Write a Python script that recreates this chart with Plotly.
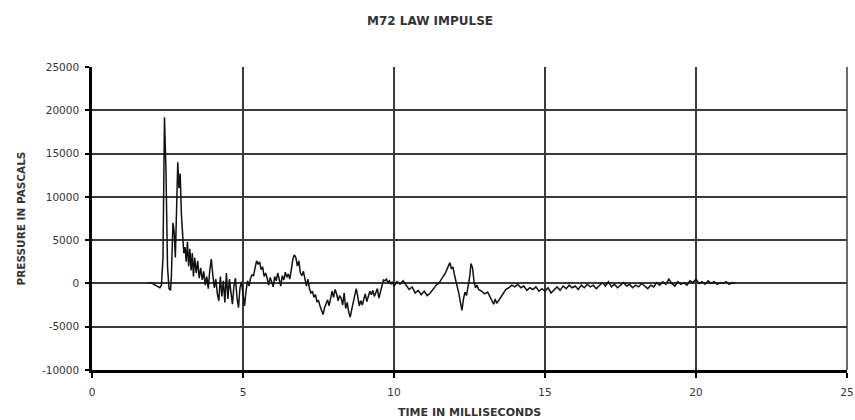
import plotly.graph_objects as go

time_ms = [1.85, 1.95, 2.05, 2.15, 2.25, 2.3, 2.35, 2.4, 2.45, 2.5, 2.55, 2.6, 2.63, 2.68, 2.72, 2.76, 2.8, 2.84, 2.88, 2.92, 2.96,
           3.0, 3.04, 3.08, 3.12, 3.16, 3.2, 3.24, 3.28, 3.32, 3.36, 3.4, 3.45, 3.5, 3.55, 3.6, 3.65, 3.7, 3.75, 3.8, 3.85, 3.9, 3.95,
           4.0, 4.05, 4.1, 4.15, 4.2, 4.25, 4.3, 4.35, 4.4, 4.45, 4.5, 4.55, 4.6, 4.65, 4.7, 4.75, 4.8, 4.85, 4.9, 4.95,
           5.0, 5.05, 5.1, 5.15, 5.2, 5.25, 5.3, 5.35, 5.4, 5.45, 5.5, 5.55, 5.6, 5.65, 5.7, 5.75, 5.8, 5.85, 5.9, 5.95,
           6.0, 6.05, 6.1, 6.15, 6.2, 6.25, 6.3, 6.35, 6.4, 6.45, 6.5, 6.55, 6.6, 6.65, 6.7, 6.75, 6.8, 6.85, 6.9, 6.95,
           7.0, 7.05, 7.1, 7.15, 7.2, 7.25, 7.3, 7.35, 7.4, 7.45, 7.5, 7.55, 7.6, 7.65, 7.7, 7.75, 7.8, 7.85, 7.9, 7.95,
           8.0, 8.05, 8.1, 8.15, 8.2, 8.25, 8.3, 8.35, 8.4, 8.45, 8.5, 8.55, 8.6, 8.65, 8.7, 8.75, 8.8, 8.85, 8.9, 8.95,
           9.0, 9.05, 9.1, 9.15, 9.2, 9.25, 9.3, 9.35, 9.4, 9.45, 9.5, 9.55, 9.6, 9.65, 9.7, 9.75, 9.8, 9.85, 9.9, 9.95,
           10.0, 10.1, 10.2, 10.3, 10.4, 10.5, 10.6, 10.7, 10.8, 10.9, 11.0, 11.1, 11.2, 11.3, 11.4, 11.5, 11.6, 11.7, 11.8, 11.85, 11.9, 11.95,
           12.0, 12.05, 12.1, 12.15, 12.2, 12.25, 12.3, 12.35, 12.4, 12.45, 12.5, 12.55, 12.6, 12.65, 12.7, 12.75, 12.8, 12.9,
           13.0, 13.1, 13.2, 13.3, 13.35, 13.4, 13.5, 13.6, 13.7, 13.8, 13.9, 14.0, 14.1, 14.2, 14.3, 14.4, 14.5, 14.6, 14.7, 14.8, 14.9,
           15.0, 15.1, 15.2, 15.3, 15.4, 15.5, 15.6, 15.7, 15.8, 15.9, 16.0, 16.1, 16.2, 16.3, 16.4, 16.5, 16.6, 16.7, 16.8, 16.9,
           17.0, 17.1, 17.2, 17.3, 17.4, 17.5, 17.6, 17.7, 17.8, 17.9, 18.0, 18.1, 18.2, 18.3, 18.4, 18.5, 18.6, 18.7, 18.8, 18.9,
           19.0, 19.1, 19.2, 19.3, 19.4, 19.5, 19.6, 19.7, 19.8, 19.9, 20.0, 20.1, 20.2, 20.3, 20.4, 20.5, 20.6, 20.7, 20.8, 20.9,
           21.0, 21.1, 21.2, 21.3]

pressure_pa = [0, 100, -100, -300, -500, -200, 3000, 19200, 13000, 2000, -600, -800, 1000, 7000, 6000, 3000, 9000, 14000, 11000, 12700, 8000,
               5500, 3500, 4200, 2500, 4800, 2000, 4000, 1500, 3500, 800, 3000, 1200, 2600, 600, 1800, 400, 1400, -200, 800, -600, 1500, 2800,
               1000, -500, 500, -1200, -2000, 800, -1500, 300, -2200, 1200, -1800, 500, -1000, -2400, -300, 600, -1600, -2800, -500, 200,
               -1200, -2600, -900, 300, -300, 600, 1000, 900, 1800, 2600, 2200, 2500, 1600, 1900, 800, 1200, 600, -200, 700, 200,
               -400, 800, 300, 1200, 500, -300, 900, 400, 1300, 700, 1100, 500, 1600, 2800, 3300, 3000, 2000, 2600, 1200, 900,
               1400, 300, -300, 500, -600, -1100, -900, -1600, -1300, -2100, -2000, -2600, -3200, -3600, -2800, -2300, -1900, -2600, -1500, -900,
               -1600, -700, -1200, -2000, -1400, -1700, -2500, -1100, -2900, -2200, -3300, -3900, -3000, -2300, -1400, -600, -1500, -2600, -2000, -2500,
               -1800, -1200, -2100, -1500, -900, -1300, -800, -1500, -1000, -600, -1700, -800, -300, 400, 300, 500, 100, 300, -100, 200,
               -300, 200, -100, 300, -200, -700, -400, -1100, -800, -1300, -900, -1400, -1100, -600, -200, 100, 600, 1200, 2000, 2400, 1700, 1900,
               1000, 300, -200, -1200, -2200, -3100, -1800, -1000, -1400, -300, 600, 2300, 1800, 200, -500, -200, -700, -900,
               -1200, -1000, -1700, -2400, -1800, -2300, -1800, -1300, -700, -500, -200, -400, -100, -500, -300, -800, -500, -700, -400, -900, -600,
               -900, -500, -1100, -700, -400, -800, -300, -600, -200, -500, -300, -700, -200, -500, -100, -400, -200, -600, -300, 100,
               -300, 200, -400, -100, -500, -200, 100, -300, -100, -500, -200, -400, 0, -300, -600, -200, -400, 100, -200, 200,
               -100, 500, 0, -300, 200, -100, 100, -200, 300, 100, 500, 0, 200, -100, 300, 0, 200, -100, 100, 0,
               200, -100, 100, 0]

x_ticks = [0, 5, 10, 15, 20, 25]
y_ticks = [-10000, -5000, 0, 5000, 10000, 15000, 20000, 25000]

title_text = "M72 LAW IMPULSE"
x_title = "TIME IN MILLISECONDS"
y_title = "PRESSURE IN PASCALS"

font_family = "DejaVu Sans, Verdana, sans-serif"
text_color = "#333333"
grid_color = "#3a3a3a"

fig = go.Figure()
fig.add_trace(go.Scatter(x=time_ms, y=pressure_pa, mode="lines",
                         line=dict(color="#111111", width=1.5), showlegend=False))

fig.update_layout(
    width=855, height=420,
    margin=dict(l=92, r=8, t=67, b=50, autoexpand=False),
    paper_bgcolor="white", plot_bgcolor="white",
    font=dict(family=font_family, size=10, color=text_color),
    title=dict(text="<b>" + title_text + "</b>", x=430 / 855, xanchor="center",
               y=1 - 21 / 420, yanchor="middle", yref="container",
               font=dict(size=12, color=text_color)),
    shapes=[dict(type="line", xref="x domain", yref="y domain", x0=1, x1=1, y0=0, y1=1,
                 line=dict(color=grid_color, width=1.5))],
    annotations=[
        dict(text="<b>" + x_title + "</b>", xref="paper", yref="paper", x=0.5, y=0,
             xanchor="center", yanchor="middle", yshift=-42, showarrow=False,
             font=dict(size=11, color=text_color)),
        dict(text="<b>" + y_title + "</b>", xref="paper", yref="paper", x=0, y=0.5,
             xanchor="center", yanchor="middle", xshift=-72, textangle=-90, showarrow=False,
             font=dict(size=10.5, color=text_color)),
    ],
)

fig.update_xaxes(
    range=[0, 25], tickvals=x_ticks, ticktext=[str(v) for v in x_ticks],
    showgrid=True, gridcolor=grid_color, gridwidth=1.5,
    showline=True, linecolor="black", linewidth=2.5, mirror=False,
    ticks="outside", ticklen=5, tickwidth=2, tickcolor="black",
    ticklabelstandoff=6, ticklabeloverflow="allow", automargin=False,
    zeroline=False,
    tickfont=dict(size=10.5, color=text_color),
)
fig.update_yaxes(
    range=[-10000, 25000], tickvals=y_ticks, ticktext=[str(v) for v in y_ticks],
    showgrid=True, gridcolor=grid_color, gridwidth=1.5,
    showline=True, linecolor="black", linewidth=2.5, mirror=False,
    ticks="outside", ticklen=4, tickwidth=2, tickcolor="black",
    ticklabelstandoff=4, automargin=False,
    zeroline=False,
    tickfont=dict(size=10.5, color=text_color),
)

fig.write_html("out.html")
